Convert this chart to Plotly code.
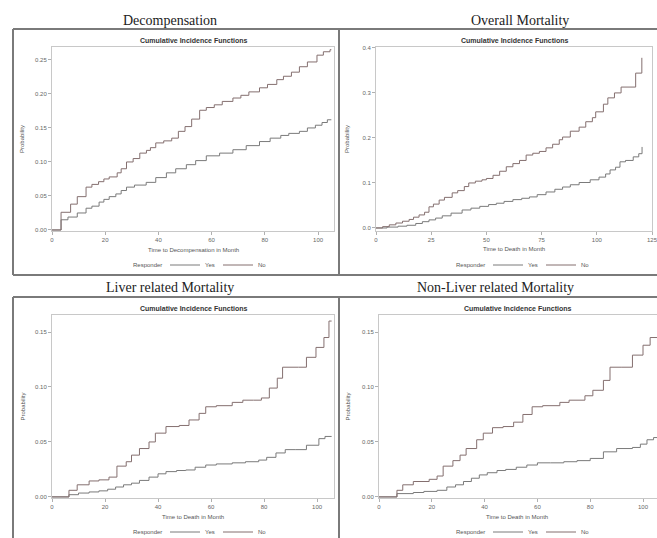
import plotly.graph_objects as go

W, H = 657, 538

# ---------------- data ----------------
panel_titles = ["Decompensation", "Overall Mortality",
                "Liver related Mortality", "Non-Liver related Mortality"]
x_titles = ["Time to Decompensation in Month", "Time to Death in Month",
            "Time to Death in Month", "Time to Death in Month"]
groups = ["Yes", "No"]

# Decompensation
dec_yes_t = [0, 3.4, 6, 9.5, 12.8, 15, 17.7, 19.5, 21.5, 24, 26, 28, 31, 35.4, 39, 43, 46.5, 50.5,
             54, 58, 63, 68, 73, 78, 82, 86, 89, 93, 96, 99, 101.5, 103.5, 105]
dec_yes_p = [0, 0.015, 0.019, 0.025, 0.032, 0.035, 0.041, 0.045, 0.049, 0.053, 0.058, 0.063, 0.066,
             0.070, 0.077, 0.084, 0.090, 0.096, 0.102, 0.109, 0.113, 0.118, 0.124, 0.130, 0.135,
             0.139, 0.142, 0.145, 0.150, 0.154, 0.158, 0.162, 0.162]
dec_no_t = [0, 3.4, 7, 9.5, 12.8, 15, 17.5, 19.5, 21.5, 24.5, 26, 28, 30.5, 33, 35.5, 37, 39, 42, 45,
            47.5, 50, 52.5, 55.5, 58, 61, 64, 68, 71, 74, 78, 81, 84.5, 87, 90, 93, 96, 99.6, 102,
            104.5, 105]
dec_no_p = [0, 0.026, 0.038, 0.049, 0.063, 0.067, 0.071, 0.075, 0.078, 0.084, 0.090, 0.100, 0.105,
            0.113, 0.117, 0.121, 0.128, 0.131, 0.135, 0.145, 0.152, 0.163, 0.176, 0.180, 0.184,
            0.189, 0.194, 0.198, 0.203, 0.209, 0.214, 0.221, 0.226, 0.232, 0.240, 0.247, 0.257,
            0.262, 0.265, 0.265]

# Overall mortality
ovr_yes_t = [0, 5, 10, 14, 18, 21, 24, 27, 30, 34, 39, 43, 47, 51, 54.5, 58, 62, 66, 69.5, 73, 77,
             81, 84.5, 88, 92, 97, 101, 104, 106, 108.5, 110.5, 113, 116.5, 119, 120.5]
ovr_yes_p = [0, 0.002, 0.004, 0.006, 0.010, 0.014, 0.018, 0.022, 0.027, 0.033, 0.040, 0.044, 0.048,
             0.052, 0.055, 0.059, 0.063, 0.066, 0.069, 0.074, 0.080, 0.086, 0.091, 0.096, 0.101,
             0.107, 0.113, 0.120, 0.129, 0.135, 0.147, 0.150, 0.158, 0.165, 0.180]
ovr_no_t = [0, 3, 6, 9, 12, 15, 17, 19.5, 22, 24, 26, 28.6, 31, 34.5, 37, 40, 42, 45, 48, 50, 53,
            56, 59, 62, 65, 68, 71, 74, 77, 80, 83, 84.5, 88, 92, 95, 98, 99.5, 103, 105, 108, 111,
            117.6, 120.4]
ovr_no_p = [0, 0.003, 0.007, 0.011, 0.015, 0.019, 0.024, 0.029, 0.035, 0.047, 0.053, 0.062, 0.068,
            0.078, 0.083, 0.092, 0.100, 0.104, 0.107, 0.110, 0.117, 0.126, 0.136, 0.143, 0.150,
            0.162, 0.166, 0.170, 0.178, 0.186, 0.196, 0.202, 0.215, 0.224, 0.236, 0.245, 0.258,
            0.275, 0.289, 0.300, 0.313, 0.344, 0.378]

# Liver related mortality
liv_yes_t = [0, 6.4, 10, 14, 17.7, 21, 24, 27, 30, 33, 36.6, 40, 43, 47, 50.5, 54, 58, 62, 68, 73,
             78, 81, 84.5, 88, 92, 96, 100.7, 103, 105.5]
liv_yes_p = [0, 0.002, 0.0035, 0.0045, 0.0055, 0.007, 0.009, 0.011, 0.0125, 0.015, 0.018, 0.021,
             0.023, 0.024, 0.0245, 0.027, 0.029, 0.030, 0.031, 0.032, 0.0335, 0.036, 0.040, 0.043,
             0.043, 0.047, 0.053, 0.055, 0.055]
liv_no_t = [0, 6.4, 9.5, 14, 17.7, 21.5, 24.5, 28, 30, 33, 36.6, 39, 43, 48, 51.7, 55.5, 58, 62, 68,
            72, 76, 79, 82, 85, 87, 93, 96, 99.6, 102.6, 104.5, 105.5]
liv_no_p = [0, 0.006, 0.011, 0.0145, 0.0155, 0.018, 0.028, 0.032, 0.038, 0.044, 0.050, 0.058, 0.064,
            0.065, 0.070, 0.076, 0.082, 0.083, 0.086, 0.088, 0.088, 0.090, 0.099, 0.108, 0.118,
            0.118, 0.127, 0.136, 0.145, 0.160, 0.160]

# Non-liver related mortality
nlv_yes_t = [0, 6.8, 13, 17, 22, 25.7, 29, 32, 35, 38, 41, 44.7, 48, 52, 56, 60, 65, 70, 75, 80, 85,
             90, 96, 99, 101.5, 104, 105.3]
nlv_yes_p = [0, 0.003, 0.004, 0.005, 0.006, 0.009, 0.011, 0.014, 0.017, 0.020, 0.022, 0.024, 0.025,
             0.027, 0.029, 0.031, 0.031, 0.032, 0.033, 0.035, 0.041, 0.044, 0.045, 0.048, 0.052,
             0.054, 0.054]
nlv_no_t = [0, 6.8, 9, 13, 19, 22, 24.3, 28, 30.7, 33, 37, 39.5, 43, 47, 51, 54.5, 58, 62, 68.5, 72,
            75, 78, 81, 85, 87.5, 92, 96, 100, 102.7, 105.3]
nlv_no_p = [0, 0.006, 0.011, 0.014, 0.016, 0.019, 0.028, 0.033, 0.038, 0.044, 0.052, 0.058, 0.063,
            0.064, 0.068, 0.075, 0.082, 0.083, 0.086, 0.088, 0.088, 0.092, 0.097, 0.106, 0.118,
            0.118, 0.129, 0.138, 0.145, 0.145]

y_ticks = [[0, 0.05, 0.10, 0.15, 0.20, 0.25], [0, 0.1, 0.2, 0.3, 0.4],
           [0, 0.05, 0.10, 0.15], [0, 0.05, 0.10, 0.15]]
y_tick_text = [["0.00", "0.05", "0.10", "0.15", "0.20", "0.25"], ["0.0", "0.1", "0.2", "0.3", "0.4"],
               ["0.00", "0.05", "0.10", "0.15"], ["0.00", "0.05", "0.10", "0.15"]]
x_ticks = [[0, 20, 40, 60, 80, 100], [0, 25, 50, 75, 100, 125],
           [0, 20, 40, 60, 80, 100], [0, 20, 40, 60, 80, 100]]

series = [
    ((dec_yes_t, dec_yes_p), (dec_no_t, dec_no_p)),
    ((ovr_yes_t, ovr_yes_p), (ovr_no_t, ovr_no_p)),
    ((liv_yes_t, liv_yes_p), (liv_no_t, liv_no_p)),
    ((nlv_yes_t, nlv_yes_p), (nlv_no_t, nlv_no_p)),
]

# ---------------- layout geometry (pixels) ----------------
def px(x):
    return x / W

def py(y):
    return 1 - y / H

plot_boxes = [(52, 334, 47, 231), (376, 652, 47, 231), (52, 334, 315, 498), (379, 657, 315, 498)]
x_ranges = [[0, 106], [0, 125], [0, 106.4], [0, 105.3]]
y_ranges = [[-0.0015, 0.269], [-0.0067, 0.402], [-0.001, 0.1655], [-0.001, 0.1655]]
title_pos = [(170, 21), (520, 21), (170, 287), (495, 287)]
inner_cx = [193, 514, 193, 517]
ylab_x = [22, 347, 22, 347]
xlab_y = [250, 249, 517, 517]
leg_y = [265, 265, 532, 532]
resp_x = [164, 487, 164, 487]

colors = {"Yes": "#7a7a7a", "No": "#846f6f"}
tick_font = dict(family="Liberation Sans", size=6, color="#666666")
small_font = dict(family="Liberation Sans", size=6, color="#555555")

fig = go.Figure()
layout = dict(width=W, height=H, margin=dict(l=0, r=0, t=0, b=0, pad=0, autoexpand=False),
              paper_bgcolor="white", plot_bgcolor="white", showlegend=True)
annotations = []
shapes = []

for i in range(4):
    n = "" if i == 0 else str(i + 1)
    x0, x1, y0, y1 = plot_boxes[i]
    for g, (t, p) in zip(groups, series[i]):
        fig.add_trace(go.Scatter(x=t, y=p, mode="lines", line=dict(shape="hv", color=colors[g], width=1),
                                 name=g, xaxis="x" + n, yaxis="y" + n,
                                 legend="legend" + n, showlegend=True, hoverinfo="skip"))
    ax = dict(domain=[px(x0), min(px(x1), 1)], range=x_ranges[i], tickvals=x_ticks[i],
              showgrid=False, zeroline=False, showline=True, mirror=True, linecolor="#c8c8c8",
              linewidth=1, ticks="outside", ticklen=3, tickcolor="#b0b0b0", tickfont=tick_font,
              anchor="y" + n, automargin=False, ticklabeloverflow="allow")
    ay = dict(domain=[py(y1), py(y0)], range=y_ranges[i], tickvals=y_ticks[i], ticktext=y_tick_text[i],
              showgrid=False, zeroline=False, showline=True, mirror=True, linecolor="#c8c8c8",
              linewidth=1, ticks="outside", ticklen=3, tickcolor="#b0b0b0", tickfont=tick_font,
              anchor="x" + n, automargin=False)
    layout["xaxis" + n] = ax
    layout["yaxis" + n] = ay
    cx = inner_cx[i]
    layout["legend" + n] = dict(orientation="h", x=px(resp_x[i] + 1), xanchor="left", y=py(leg_y[i]),
                                yanchor="middle", bgcolor="rgba(0,0,0,0)", font=small_font,
                                entrywidth=8, entrywidthmode="pixels",
                                itemwidth=30, tracegroupgap=0, borderwidth=0)
    annotations.append(dict(text="Responder", x=px(resp_x[i]), y=py(leg_y[i]), xref="paper", yref="paper",
                            showarrow=False, xanchor="right", yanchor="middle", font=small_font))
    # panel title
    annotations.append(dict(text=panel_titles[i], x=px(title_pos[i][0]), y=py(title_pos[i][1]),
                            xref="paper", yref="paper", showarrow=False, xanchor="center", yanchor="middle",
                            font=dict(family="Liberation Serif", size=14, color="#222222")))
    # inner plot title
    annotations.append(dict(text="<b>Cumulative Incidence Functions</b>", x=px(cx),
                            y=py(y0 - 7), xref="paper", yref="paper", showarrow=False,
                            xanchor="center", yanchor="middle",
                            font=dict(family="Liberation Sans", size=7, color="#333333")))
    # axis titles
    annotations.append(dict(text=x_titles[i], x=px(cx), y=py(xlab_y[i]), xref="paper", yref="paper",
                            showarrow=False, xanchor="center", yanchor="middle", font=small_font))
    annotations.append(dict(text="Probability", x=px(ylab_x[i]), y=py((y0 + y1) / 2), xref="paper",
                            yref="paper", showarrow=False, xanchor="center", yanchor="middle",
                            textangle=-90, font=small_font))

# panel frames (drawn as line segments kept inside the page)
frame_lines = [
    (13, 29, 657, 29), (13, 29, 13, 275), (339, 29, 339, 275), (13, 275, 657, 275),
    (13, 297, 657, 297), (13, 297, 13, 538), (339, 297, 339, 538),
]
for (lx0, ly0, lx1, ly1) in frame_lines:
    shapes.append(dict(type="line", xref="paper", yref="paper", x0=px(lx0), y0=py(ly0),
                       x1=px(lx1), y1=py(ly1), line=dict(color="#7a7a7a", width=2), layer="above"))

layout["annotations"] = annotations
layout["shapes"] = shapes
fig.update_layout(**layout)
fig.write_html("out.html", config={"displayModeBar": False},
               post_script="document.body.style.margin='0px';"
                           "document.body.style.overflow='hidden';"
                           "document.documentElement.style.overflow='hidden';")
